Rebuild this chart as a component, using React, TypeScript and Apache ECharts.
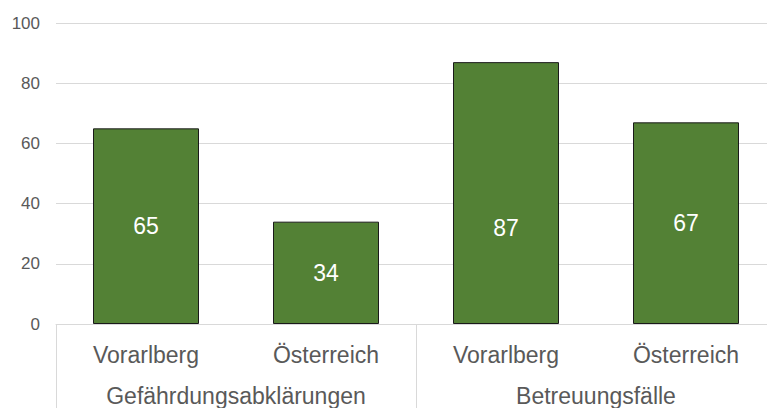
import React, { useEffect, useRef } from "react";
import * as echarts from "echarts";

const categories = ["Vorarlberg", "Österreich", "Vorarlberg", "Österreich"];
const groups = ["Gefährdungsabklärungen", "Betreuungsfälle"];
const values = [65, 34, 87, 67];
const yTicks = { min: 0, max: 100, interval: 20 };
// vertical shift of the value label per bar (the 87 label sits lower in the source)
const labelShifts = [0, 0, 35, 0];

export default function App() {
  const ref = useRef<HTMLDivElement>(null);
  useEffect(() => {
    document.body.style.margin = "0";
    const chart = echarts.init(ref.current!, null, { renderer: "svg" });
    const font = "Liberation Sans, Arial, sans-serif";
    chart.setOption({
      animation: false,
      backgroundColor: "#ffffff",
      grid: { left: 56, top: 23, height: 301, width: 720, containLabel: false },
      yAxis: {
        type: "value",
        min: yTicks.min,
        max: yTicks.max,
        interval: yTicks.interval,
        axisLine: { show: false },
        axisTick: { show: false },
        splitLine: { lineStyle: { color: "#d9d9d9", width: 1 } },
        axisLabel: { margin: 16, fontSize: 17, color: "#595959", fontFamily: font },
      },
      xAxis: [
        {
          type: "category",
          data: categories,
          position: "bottom",
          axisLine: { show: true, lineStyle: { color: "#d9d9d9", width: 1 } },
          axisTick: { show: false },
          axisLabel: { margin: 19, fontSize: 23, color: "#595959", fontFamily: font, interval: 0 },
        },
        {
          type: "category",
          data: groups,
          position: "bottom",
          axisLine: { show: false },
          axisTick: { show: true, length: 90, lineStyle: { color: "#d9d9d9", width: 1 } },
          axisLabel: { margin: 60, fontSize: 23, color: "#595959", fontFamily: font, interval: 0 },
          splitLine: { show: false },
        },
      ],
      series: [
        {
          type: "bar",
          xAxisIndex: 0,
          data: values.map((v, i) => ({ value: v, label: { offset: [0, labelShifts[i]] } })),
          barWidth: 106,
          itemStyle: { color: "#538135", borderColor: "#1a1a1a", borderWidth: 1 },
          label: {
            show: true,
            position: "inside",
            color: "#ffffff",
            fontSize: 23,
            fontFamily: font,
          },
        },
      ],
    });
    return () => chart.dispose();
  }, []);
  return (
    <div style={{ width: 767, height: 408, overflow: "hidden", position: "relative" }}>
      <div ref={ref} style={{ width: 790, height: 408 }} />
    </div>
  );
}
